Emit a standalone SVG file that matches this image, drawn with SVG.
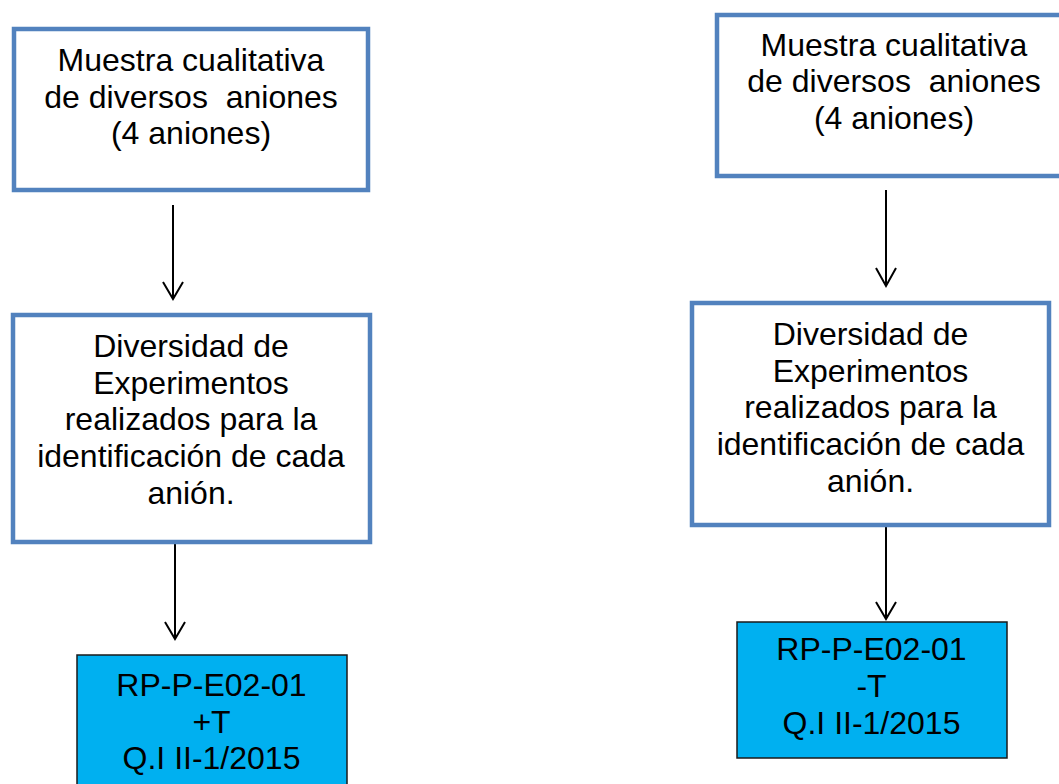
<svg xmlns="http://www.w3.org/2000/svg" width="1059" height="784" viewBox="0 0 1059 784">
<style>
.box{fill:#ffffff;stroke:#5282BE;stroke-width:4.5}
.code{fill:#00B0F0;stroke:#1a1a1a;stroke-width:1.5}
.t{font-family:"Liberation Sans",Arial,sans-serif;font-size:32px;fill:#000000;text-anchor:middle}
.conn{stroke:#000000;stroke-width:2;fill:none}
</style>
<rect width="1059" height="784" fill="#ffffff"/>
<g id="connectors">
<path class="conn" d="M173 205 V299 M163 282 L173 299 L183 282"/>
<path class="conn" d="M175 544 V639 M165 622 L175 639 L185 622"/>
<path class="conn" d="M886 190 V286 M876 268 L886 286 L896 268"/>
<path class="conn" d="M886 526 V619 M876 602 L886 619 L896 602"/>
</g>
<g id="n1">
<rect class="box" x="14" y="29" width="354" height="161"/>
<text class="t" transform="translate(191,71)"><tspan x="0" y="0">Muestra cualitativa</tspan><tspan x="0" y="36.5" xml:space="preserve">de diversos  aniones</tspan><tspan x="0" y="73">(4 aniones)</tspan></text>
</g>
<g id="n2">
<rect class="box" x="13" y="315" width="357" height="227"/>
<text class="t" transform="translate(191,357)"><tspan x="0" y="0">Diversidad de</tspan><tspan x="0" y="36.7">Experimentos</tspan><tspan x="0" y="73.4">realizados para la</tspan><tspan x="0" y="110.1">identificación de cada</tspan><tspan x="0" y="146.8">anión.</tspan></text>
</g>
<g id="n3">
<rect class="code" x="77" y="655" width="270" height="140"/>
<text class="t" transform="translate(211.5,696)"><tspan x="0" y="0">RP-P-E02-01</tspan><tspan x="0" y="36.5">+T</tspan><tspan x="0" y="73">Q.I II-1/2015</tspan></text>
</g>
<g id="n4">
<rect class="box" x="717" y="15" width="360" height="161"/>
<text class="t" transform="translate(894,56)"><tspan x="0" y="0">Muestra cualitativa</tspan><tspan x="0" y="36.3" xml:space="preserve">de diversos  aniones</tspan><tspan x="0" y="72.6">(4 aniones)</tspan></text>
</g>
<g id="n5">
<rect class="box" x="692" y="303" width="357" height="222"/>
<text class="t" transform="translate(870.5,345)"><tspan x="0" y="0">Diversidad de</tspan><tspan x="0" y="36.7">Experimentos</tspan><tspan x="0" y="73.4">realizados para la</tspan><tspan x="0" y="110.1">identificación de cada</tspan><tspan x="0" y="146.8">anión.</tspan></text>
</g>
<g id="n6">
<rect class="code" x="737" y="622" width="270" height="136"/>
<text class="t" transform="translate(871.5,660)"><tspan x="0" y="0">RP-P-E02-01</tspan><tspan x="0" y="37">-T</tspan><tspan x="0" y="74">Q.I II-1/2015</tspan></text>
</g>
</svg>
